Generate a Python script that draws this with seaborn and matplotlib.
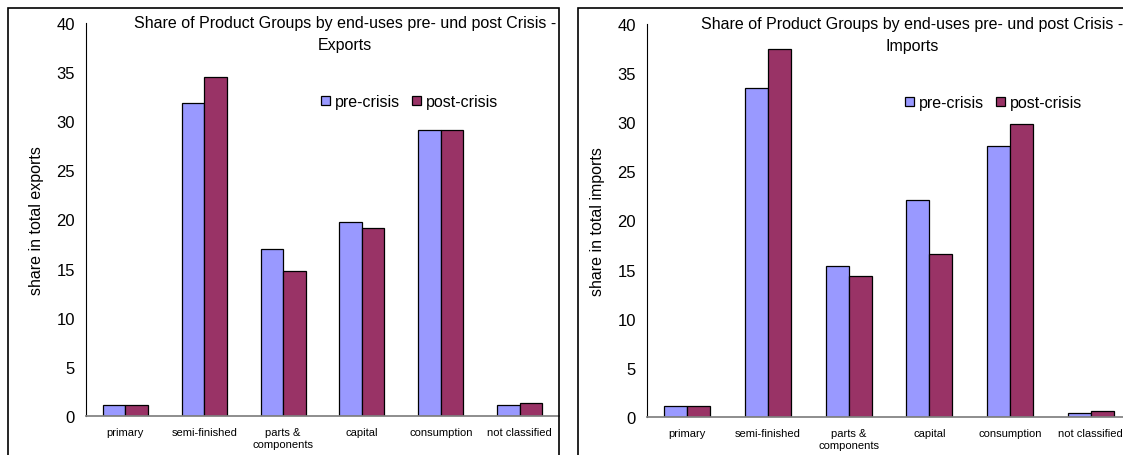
import pandas as pd
import matplotlib.pyplot as plt
import seaborn as sns
from matplotlib.patches import Rectangle
from matplotlib.ticker import FixedLocator

categories = ["primary", "semi-finished", "parts &\ncomponents", "capital",
              "consumption", "not classified"]
periods = ["pre-crisis", "post-crisis"]

exports_pre = [1.1, 31.9, 17.0, 19.7, 29.1, 1.1]
exports_post = [1.1, 34.5, 14.8, 19.1, 29.1, 1.3]
imports_pre = [1.1, 33.5, 15.4, 22.1, 27.6, 0.4]
imports_post = [1.1, 37.5, 14.4, 16.6, 29.8, 0.6]

colors = {"pre-crisis": "#9999FF", "post-crisis": "#993366"}


def to_long(pre, post):
    rows = []
    for c, v in zip(categories, pre):
        rows.append({"category": c, "period": "pre-crisis", "share": v})
    for c, v in zip(categories, post):
        rows.append({"category": c, "period": "post-crisis", "share": v})
    return pd.DataFrame(rows)


def draw(ax, df, title, ylabel, label_x, legend_x):
    sns.barplot(data=df, x="category", y="share", hue="period",
                hue_order=periods, order=categories, palette=colors,
                width=0.57, edgecolor="black", linewidth=0.9,
                saturation=1, ax=ax)
    ax.set_ylim(0, 40)
    ax.set_xlim(-0.5, len(categories) - 0.5)
    ax.set_yticks(range(0, 41, 5))
    ax.set_xlabel("")
    ax.set_ylabel(ylabel, fontsize=11.5)
    ax.yaxis.set_label_coords(label_x, 0.5)
    for s in ["top", "right"]:
        ax.spines[s].set_visible(False)
    ax.spines["bottom"].set_color("#808080")
    ax.spines["left"].set_color("black")
    ax.spines["left"].set_linewidth(0.8)
    ax.tick_params(axis="y", labelsize=12, length=4, width=0.8, direction="out", pad=4)
    ax.tick_params(axis="x", which="major", labelsize=8, length=0, pad=8)
    ax.xaxis.set_minor_locator(FixedLocator([i - 0.5 for i in range(len(categories) + 1)]))
    ax.tick_params(axis="x", which="minor", length=4, width=0.8, color="#404040")
    ax.grid(False)
    ax.text(0.548, 1.02, title, transform=ax.transAxes, ha="center", va="top",
            fontsize=11.5, linespacing=1.6)
    ax.legend(loc="center left", bbox_to_anchor=(legend_x, 0.80), ncol=2,
              frameon=False, fontsize=11.5, handlelength=0.56, handleheight=0.56,
              handletextpad=0.3, columnspacing=0.75, borderaxespad=0,
              borderpad=0)


def main():
    sns.set_theme(style="white")
    plt.rcParams["font.family"] = ["Liberation Sans", "DejaVu Sans"]
    plt.rcParams["text.color"] = "black"
    plt.rcParams["axes.labelcolor"] = "black"
    plt.rcParams["xtick.color"] = "black"
    plt.rcParams["ytick.color"] = "black"

    W, H = 1123, 456
    fig = plt.figure(figsize=(W / 100, H / 100), dpi=100)

    # chart area frames
    fig.patches.append(Rectangle((8 / W, -0.1), (559 - 8) / W, (456 - 9) / H + 0.1,
                                 transform=fig.transFigure, fill=False,
                                 edgecolor="black", linewidth=1.2))
    fig.patches.append(Rectangle((578 / W, -0.1), 0.5, (456 - 9) / H + 0.1,
                                 transform=fig.transFigure, fill=False,
                                 edgecolor="black", linewidth=1.2))

    ax1 = fig.add_axes([86 / W, 39 / H, 473 / W, 393 / H])
    ax2 = fig.add_axes([647 / W, 38 / H, 484 / W, 393 / H])

    draw(ax1, to_long(exports_pre, exports_post),
         "Share of Product Groups by end-uses pre- und post Crisis -\nExports",
         "share in total exports", -0.088, 0.497)
    draw(ax2, to_long(imports_pre, imports_post),
         "Share of Product Groups by end-uses pre- und post Crisis -\nImports",
         "share in total imports", -0.086, 0.533)

    fig.savefig("out.png", dpi=100)


if __name__ == "__main__":
    main()
